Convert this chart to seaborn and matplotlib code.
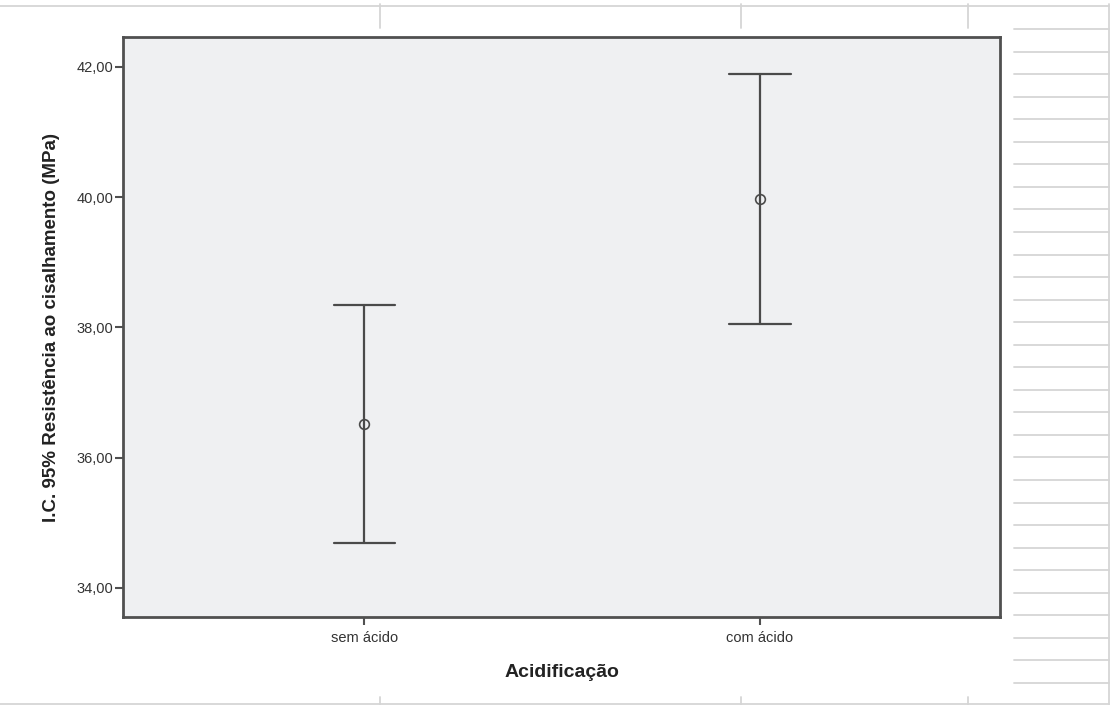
import matplotlib
matplotlib.use("Agg")
import matplotlib.pyplot as plt
from matplotlib.lines import Line2D
from matplotlib.ticker import FuncFormatter
import seaborn as sns
import pandas as pd
import numpy as np

# Data (95% CI of shear strength, MPa)
categories = ["sem ácido", "com ácido"]
means = [36.51, 39.97]
ci_lower = [34.68, 38.05]
ci_upper = [38.34, 41.89]
y_ticks = [34, 36, 38, 40, 42]

rows = []
for c, lo, m, hi in zip(categories, ci_lower, means, ci_upper):
    for v in (lo, m, hi):
        rows.append({"Acidificação": c, "valor": v})
df = pd.DataFrame(rows)

sns.set_theme(style="white")
plt.rcParams['font.family'] = ['Liberation Sans', 'DejaVu Sans']

fig = plt.figure(figsize=(11.11, 7.05), dpi=100)
ax = fig.add_axes([123/1111, 1-617/705, 877/1111, 580/705])
ax.set_facecolor("#eff0f2")

line_col = "#4a4a4a"
sns.pointplot(data=df, x="Acidificação", y="valor", order=categories,
              estimator="median", errorbar=lambda v: (v.min(), v.max()),
              linestyle="none", capsize=0.155, color=line_col,
              markers="o", markersize=7, markerfacecolor="none",
              markeredgewidth=1.2, markeredgecolor=line_col,
              err_kws={"linewidth": 1.6, "color": line_col}, ax=ax)

ax.set_xlim(-0.61, 1.607)
ax.set_ylim(33.55, 42.46)
ax.set_yticks(y_ticks)
ax.yaxis.set_major_formatter(FuncFormatter(lambda v, p: f"{v:.2f}".replace(".", ",")))

for s in ax.spines.values():
    s.set_visible(True)
    s.set_color("#505050")
    s.set_linewidth(2.0)

ax.tick_params(axis="both", which="major", direction="out", bottom=True, left=True,
               length=6, width=1.5, color="#505050", labelsize=10.5,
               labelcolor="#333333", pad=2)
ax.tick_params(axis="y", length=6, pad=1)
ax.tick_params(axis="x", length=6, pad=4)

ax.set_xlabel("Acidificação", fontsize=14, fontweight="bold", color="#222222", labelpad=14)
ax.set_ylabel("I.C. 95% Resistência ao cisalhamento (MPa)", fontsize=13.5, fontweight="bold",
              color="#222222", labelpad=12)

# spreadsheet-style background lines
W, H = 1111, 705
gcol = "#d5d5d5"
def L(x0, y0, x1, y1, lw=1.3):
    fig.add_artist(Line2D([x0/W, x1/W], [1-y0/H, 1-y1/H], color=gcol, lw=lw, zorder=0))

L(0, 6, 1109, 6)
L(0, 704, 1109, 704)
L(1109, 4, 1109, 705)
for xv in (380, 741, 968):
    L(xv, 4, xv, 28)
    L(xv, 697, xv, 705)
for i in range(30):
    yv = 29 + i * 22.55
    L(1014, yv, 1109, yv)

fig.savefig("out.png", dpi=100)
